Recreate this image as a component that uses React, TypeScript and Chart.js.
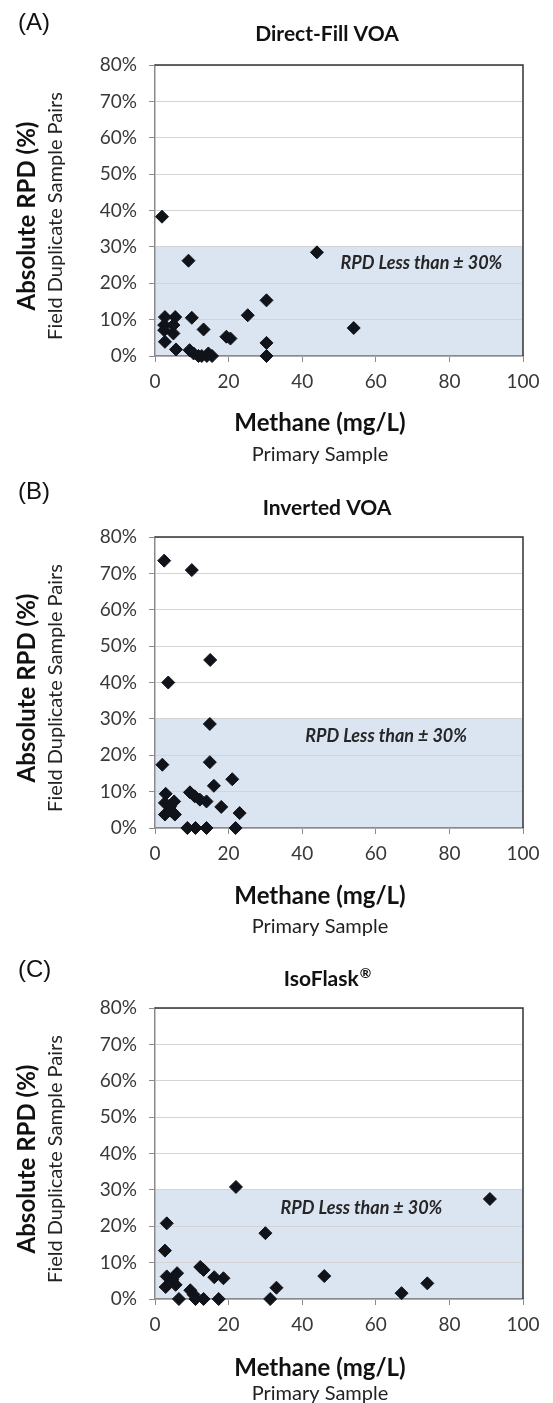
import React, { useEffect, useRef } from "react";
import { Chart, registerables } from "chart.js";

Chart.register(...registerables);

// ---- data ----
const directFillMethane = [1.9, 9.1, 44, 2.7, 5.5, 2.5, 2.5, 5, 5, 2.7, 5.7, 10, 13.2, 9.4, 10.5, 11.8, 12.7, 14.5, 15.5, 14.1, 25.2, 30.3, 19.4, 20.5, 30.3, 30.3, 54];
const directFillRpd = [38.3, 26.2, 28.5, 10.7, 10.7, 8.5, 7.1, 8.5, 6.2, 3.9, 1.8, 10.5, 7.3, 1.6, 0.7, 0, 0, 0.7, 0, 0, 11.2, 15.3, 5.3, 4.8, 3.6, 0, 7.7];

const invertedMethane = [2.5, 10, 15, 3.6, 14.9, 2, 14.9, 21, 16, 2.9, 9.5, 10.8, 12.2, 14, 5.2, 2.7, 4.1, 2.7, 5.4, 4.5, 18, 23, 8.8, 11, 14, 21.9];
const invertedRpd = [73.5, 70.9, 46.2, 40, 28.6, 17.4, 18.1, 13.4, 11.6, 9.4, 9.8, 8.7, 7.8, 7.3, 7.3, 6.9, 5.9, 3.7, 3.7, 4.6, 5.8, 4.1, 0, 0, 0, 0];

const isoFlaskMethane = [22, 91, 3.2, 2.7, 30, 46, 12.3, 13.2, 16.1, 18.6, 3.2, 6, 4.7, 2.9, 5.6, 9.6, 10.5, 6.5, 11, 13.2, 17.3, 31.3, 33, 67, 74];
const isoFlaskRpd = [30.8, 27.5, 20.8, 13.3, 18.1, 6.3, 8.8, 8.0, 6.0, 5.7, 6.2, 7.1, 5.3, 3.3, 3.9, 2.4, 1.2, 0, 0, 0, 0, 0, 3.1, 1.6, 4.3];

const panelLetters = ["(A)", "(B)", "(C)"];
const panelTitles = ["Direct-Fill VOA", "Inverted VOA", "IsoFlask®"];
const yAxisTitle = "Absolute RPD (%)";
const yAxisSubtitle = "Field Duplicate Sample Pairs";
const xAxisTitle = "Methane (mg/L)";
const xAxisSubtitle = "Primary Sample";
const bandLabel = "RPD Less than ± 30%";
const bandLimit = 30;
const bandLabelMethane = [72.4, 62.8, 56.1];
const bandLabelRpd = [25.5, 25.3, 25.0];
const xMin = 0, xMax = 100, xStep = 20;
const yMin = 0, yMax = 80, yStep = 10;

const seriesMethane = [directFillMethane, invertedMethane, isoFlaskMethane];
const seriesRpd = [directFillRpd, invertedRpd, isoFlaskRpd];

// ---- layout ----
const W = 553;
const PANEL_TOPS = [0, 472, 943];
const PANEL_HEIGHTS = [472, 471, 460];
const PLOT_LEFT = 155;
const PLOT_RIGHT = 523;
const PLOT_TOP = 65;
const PLOT_BOTTOM = 356;
const LETTER_Y = [23, 20, 27];
const TITLE_Y = [34, 36, 36];
const XTITLE_Y = [423, 424, 425];
const XSUB_Y = [455, 455, 451];
const FONT = "Lato, 'Open Sans', sans-serif";

function Panel({ idx }: { idx: number }) {
  const ref = useRef<HTMLCanvasElement | null>(null);
  const h = PANEL_HEIGHTS[idx];

  useEffect(() => {
    if (!ref.current) return;
    const points = seriesMethane[idx].map((x, i) => ({ x, y: seriesRpd[idx][i] }));

    const decor = {
      id: "decor" + idx,
      beforeDraw(chart: any) {
        const { ctx, chartArea, scales } = chart;
        const yTop = scales.y.getPixelForValue(bandLimit);
        const yBot = scales.y.getPixelForValue(0);
        ctx.save();
        ctx.fillStyle = "#dbe5f1";
        ctx.fillRect(chartArea.left, yTop, chartArea.right - chartArea.left, yBot - yTop);
        ctx.restore();
      },
      afterDatasetsDraw(chart: any) {
        const { ctx, chartArea, scales } = chart;
        ctx.save();
        ctx.strokeStyle = "#333";
        ctx.lineWidth = 1.5;
        ctx.beginPath();
        ctx.moveTo(chartArea.left, chartArea.top);
        ctx.lineTo(chartArea.right, chartArea.top);
        ctx.lineTo(chartArea.right, chartArea.bottom);
        ctx.stroke();
        ctx.fillStyle = "#262626";
        ctx.font = `italic bold 18px ${FONT}`;
        ctx.textAlign = "center";
        ctx.textBaseline = "middle";
        ctx.fillText(
          bandLabel,
          scales.x.getPixelForValue(bandLabelMethane[idx]),
          scales.y.getPixelForValue(bandLabelRpd[idx])
        );
        ctx.restore();
      },
      afterDraw(chart: any) {
        const { ctx } = chart;
        ctx.save();
        ctx.textBaseline = "middle";
        ctx.fillStyle = "#111";
        ctx.textAlign = "left";
        ctx.font = `24px "Liberation Sans", Arial, sans-serif`;
        ctx.fillText(panelLetters[idx], 18, LETTER_Y[idx]);
        const title = panelTitles[idx];
        const ty = TITLE_Y[idx];
        const cx = 327;
        ctx.font = `bold 21px ${FONT}`;
        if (title.endsWith("®")) {
          const base = title.slice(0, -1);
          const wBase = ctx.measureText(base).width;
          ctx.font = `bold 14px ${FONT}`;
          const wReg = ctx.measureText("®").width;
          const start = cx - (wBase + wReg) / 2;
          ctx.font = `bold 21px ${FONT}`;
          ctx.textAlign = "left";
          ctx.fillText(base, start, ty);
          ctx.font = `bold 14px ${FONT}`;
          ctx.fillText("®", start + wBase + 1, ty - 6);
        } else {
          ctx.textAlign = "center";
          ctx.fillText(title, cx, ty);
        }
        ctx.textAlign = "center";
        ctx.save();
        ctx.translate(27, 216);
        ctx.rotate(-Math.PI / 2);
        ctx.font = `bold 24px ${FONT}`;
        ctx.fillText(yAxisTitle, 0, 0);
        ctx.restore();
        ctx.save();
        ctx.translate(56, 216);
        ctx.rotate(-Math.PI / 2);
        ctx.font = `20px ${FONT}`;
        ctx.fillStyle = "#222";
        ctx.fillText(yAxisSubtitle, 0, 0);
        ctx.restore();
        ctx.font = `bold 24px ${FONT}`;
        ctx.fillText(xAxisTitle, 320, XTITLE_Y[idx]);
        ctx.font = `20px ${FONT}`;
        ctx.fillStyle = "#222";
        ctx.fillText(xAxisSubtitle, 320, XSUB_Y[idx]);
        ctx.restore();
      },
    };

    const chart = new Chart(ref.current, {
      type: "scatter",
      data: {
        datasets: [
          {
            data: points,
            pointStyle: "rectRot",
            pointRadius: 6.5,
            pointHoverRadius: 6.5,
            backgroundColor: "#10131a",
            borderColor: "#10131a",
            borderWidth: 1,
            clip: false as any,
          },
        ],
      },
      options: {
        animation: false,
        responsive: false,
        events: [],
        layout: { padding: { left: 0, right: W - PLOT_RIGHT, top: PLOT_TOP, bottom: 0 } },
        plugins: { legend: { display: false }, tooltip: { enabled: false }, title: { display: false } },
        scales: {
          x: {
            type: "linear",
            min: xMin,
            max: xMax,
            afterFit: (s: any) => {
              s.height = h - PLOT_BOTTOM;
            },
            ticks: {
              stepSize: xStep,
              padding: 8,
              color: "#383838",
              font: { family: FONT, size: 19 },
            },
            grid: {
              drawOnChartArea: false,
              drawTicks: true,
              tickLength: 6,
              tickColor: "#8a8a8a",
            },
            border: { color: "#8a8a8a", width: 1.5 },
          },
          y: {
            type: "linear",
            min: yMin,
            max: yMax,
            afterFit: (s: any) => {
              s.width = PLOT_LEFT;
            },
            ticks: {
              stepSize: yStep,
              padding: 12,
              color: "#383838",
              font: { family: FONT, size: 19 },
              callback: (v: any) => v + "%",
            },
            grid: {
              color: "#d4d4d4",
              drawTicks: true,
              tickLength: 6,
              tickColor: "#8a8a8a",
            },
            border: { color: "#8a8a8a", width: 1.5 },
          },
        },
      },
      plugins: [decor],
    });
    return () => chart.destroy();
  }, [idx, h]);

  return (
    <canvas
      ref={ref}
      width={W}
      height={h}
      style={{ position: "absolute", left: 0, top: PANEL_TOPS[idx], width: W, height: h }}
    />
  );
}

export default function App() {
  return (
    <div style={{ position: "absolute", left: 0, top: 0, width: W, height: 1403, background: "#fff" }}>
      <Panel idx={0} />
      <Panel idx={1} />
      <Panel idx={2} />
    </div>
  );
}
